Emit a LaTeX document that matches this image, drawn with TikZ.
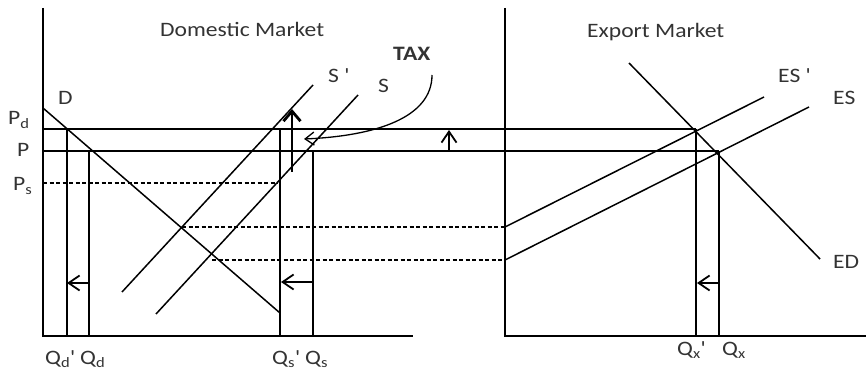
\documentclass[tikz,border=0pt]{standalone}
\usepackage{fontspec}
\setmainfont{Carlito}[FakeStretch=1.15]
\usetikzlibrary{arrows.meta}

\begin{document}
\begin{tikzpicture}[
    x=1pt,y=-1pt,
    >={Straight Barb[length=11pt,width=15pt]},
    every node/.style={font=\fontsize{20.5}{24}\selectfont,text=black!80,inner sep=0pt,anchor=base west},
    ax/.style={line width=1.7pt},
    crv/.style={line width=1.5pt},
    lvl/.style={line width=1.8pt},
    dsh/.style={line width=1.3pt,dash pattern=on 4pt off 2.5pt},
    mv/.style={->,line width=1.8pt},
  ]
  \useasboundingbox (0,0) rectangle (866,371);

  % -- domestic market --
  \draw[ax] (43,8) -- (43,336) -- (413,336);
  \draw[crv] (43,108) -- (280,313);   % D
  \draw[crv] (122,292) -- (313,85);   % S'
  \draw[crv] (156,314) -- (358,95);   % S
  \draw[dsh] (43,183) -- (278,183);
  \draw[crv] (67,129) -- (67,336);
  \draw[crv] (89,151) -- (89,336);
  \draw[crv] (280,129) -- (280,336);
  \draw[crv] (313,151) -- (313,336);

  % -- export market --
  \draw[ax] (505,8) -- (505,336) -- (866,336);
  \draw[crv] (505,227) -- (764,97);   % ES'
  \draw[crv] (505,260) -- (809,107);  % ES
  \draw[crv] (629,63) -- (820,259);   % ED
  \draw[crv] (696,129) -- (696,336);
  \draw[crv] (719,151) -- (719,336);

  % -- prices carried across --
  \draw[lvl] (43,129) -- (696,129);
  \draw[lvl] (43,151) -- (719,151);
  \draw[dsh] (182,227) -- (505,227);
  \draw[dsh] (212,260) -- (505,260);

  % -- the shifts --
  \draw[mv] (89,283) -- (67,283);
  \draw[mv] (313,282) -- (281,282);
  \draw[mv] (719,283) -- (697,283);
  \draw[mv] (449,151) -- (449,130);
  \draw[->,line width=2.8pt,>={Straight Barb[length=10pt,width=17pt]}] (292,172) -- (292,109);
  \draw[->,line width=1.3pt,>={Straight Barb[length=9pt,width=13pt]}] (432,75) .. controls (432,118) and (375,136) .. (304,139);

  % -- labels --
  \node (dom) at (160,37) {Domestic Market};
  \node (exp) at (587,38) {Export Market};
  \node (tax) at (393,61) {\bfseries TAX};
  \node (d)   at (58,105) {D};
  \node (sp)  at (328,83) {S \textquotesingle};
  \node (s)   at (378,93) {S};
  \node (pd)  at (8,125)  {P\textsubscript{d}};
  \node (p)   at (17,157) {P};
  \node (ps)  at (13,191) {P\textsubscript{s}};
  \node (qdp) at (45,364) {Q\textsubscript{d}\textquotesingle};
  \node (qd)  at (80,364) {Q\textsubscript{d}};
  \node (qsp) at (272,364) {Q\textsubscript{s}\textquotesingle};
  \node (qs)  at (305,364) {Q\textsubscript{s}};
  \node (esp) at (778,83) {ES \textquotesingle};
  \node (es)  at (833,105) {ES};
  \node (ed)  at (833,268) {ED};
  \node (qxp) at (677,355) {Q\textsubscript{x}\textquotesingle};
  \node (qx)  at (722,355) {Q\textsubscript{x}};
\end{tikzpicture}
\end{document}
